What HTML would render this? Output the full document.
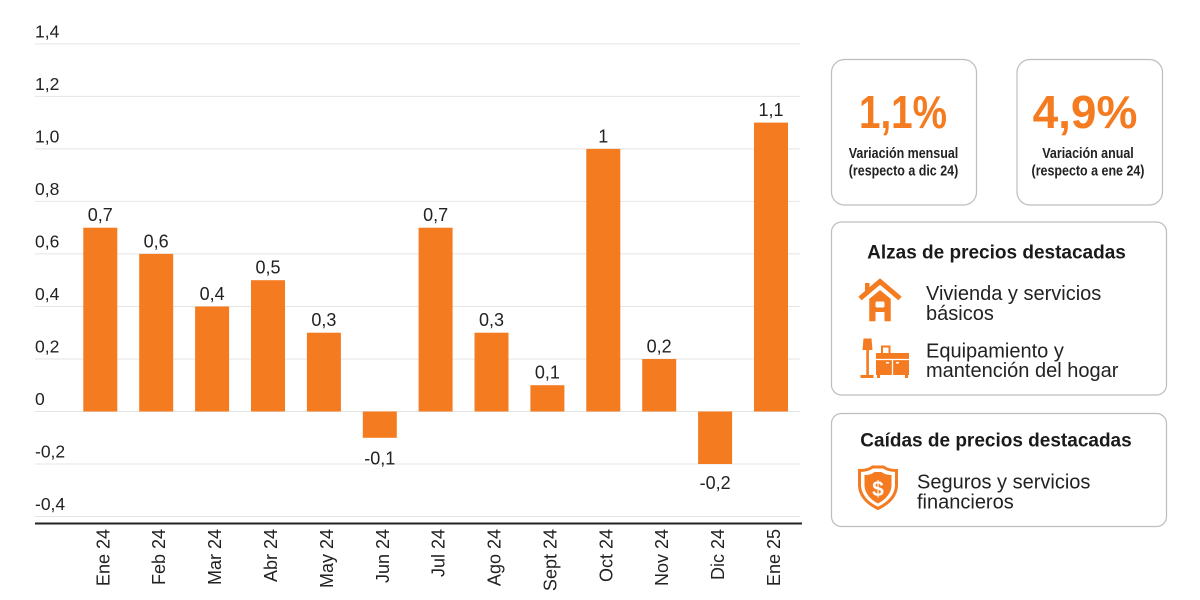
<!DOCTYPE html>
<html>
<head>
<meta charset="utf-8">
<style>
html,body{margin:0;padding:0;background:#fff;}
svg{display:block;}
text{font-family:"Liberation Sans",sans-serif;}
</style>
</head>
<body>
<svg width="1200" height="600" viewBox="0 0 1200 600" xmlns="http://www.w3.org/2000/svg">
<rect width="1200" height="600" fill="#fff"/>
<!-- gridlines -->
<g stroke="#e4e4e4" stroke-width="1">
<line x1="35" y1="43.9" x2="800" y2="43.9"/>
<line x1="35" y1="96.4" x2="800" y2="96.4"/>
<line x1="35" y1="148.9" x2="800" y2="148.9"/>
<line x1="35" y1="201.4" x2="800" y2="201.4"/>
<line x1="35" y1="253.9" x2="800" y2="253.9"/>
<line x1="35" y1="306.5" x2="800" y2="306.5"/>
<line x1="35" y1="359" x2="800" y2="359"/>
<line x1="35" y1="411.5" x2="800" y2="411.5"/>
<line x1="35" y1="464" x2="800" y2="464"/>
<line x1="35" y1="516.5" x2="800" y2="516.5"/>
</g>
<!-- y labels -->
<g font-size="17.5" fill="#222">
<text x="35" y="37.4">1,4</text>
<text x="35" y="89.9">1,2</text>
<text x="35" y="142.4">1,0</text>
<text x="35" y="194.9">0,8</text>
<text x="35" y="247.4">0,6</text>
<text x="35" y="300">0,4</text>
<text x="35" y="352.5">0,2</text>
<text x="35" y="405">0</text>
<text x="35" y="457.5">-0,2</text>
<text x="35" y="510">-0,4</text>
</g>
<!-- axis line -->
<line x1="35" y1="523.5" x2="802" y2="523.5" stroke="#222" stroke-width="2"/>
<!-- bars -->
<g fill="#F47B20">
<rect x="83.3" y="227.7" width="34" height="183.8"/>
<rect x="139.2" y="253.9" width="34" height="157.6"/>
<rect x="195.1" y="306.5" width="34" height="105"/>
<rect x="251.0" y="280.2" width="34" height="131.3"/>
<rect x="306.9" y="332.7" width="34" height="78.8"/>
<rect x="362.8" y="411.5" width="34" height="26.3"/>
<rect x="418.6" y="227.7" width="34" height="183.8"/>
<rect x="474.5" y="332.7" width="34" height="78.8"/>
<rect x="530.4" y="385.2" width="34" height="26.3"/>
<rect x="586.3" y="148.9" width="34" height="262.6"/>
<rect x="642.2" y="359" width="34" height="52.5"/>
<rect x="698.1" y="411.5" width="34" height="52.5"/>
<rect x="754" y="122.6" width="34" height="288.9"/>
</g>
<!-- value labels -->
<g font-size="18" fill="#222" text-anchor="middle">
<text x="100.3" y="221.2">0,7</text>
<text x="156.2" y="247.4">0,6</text>
<text x="212.1" y="300">0,4</text>
<text x="268" y="273.7">0,5</text>
<text x="323.9" y="326.2">0,3</text>
<text x="379.8" y="464.5">-0,1</text>
<text x="435.6" y="221.2">0,7</text>
<text x="491.5" y="326.2">0,3</text>
<text x="547.4" y="378.7">0,1</text>
<text x="603.3" y="142.4">1</text>
<text x="659.2" y="352.5">0,2</text>
<text x="715.1" y="489">-0,2</text>
<text x="771" y="116.1">1,1</text>
</g>
<!-- x labels -->
<g font-size="18" fill="#222" text-anchor="end">
<text transform="translate(109.3,529) rotate(-90)">Ene 24</text>
<text transform="translate(165.2,529) rotate(-90)">Feb 24</text>
<text transform="translate(221.1,529) rotate(-90)">Mar 24</text>
<text transform="translate(277,529) rotate(-90)">Abr 24</text>
<text transform="translate(332.9,529) rotate(-90)">May 24</text>
<text transform="translate(388.8,529) rotate(-90)">Jun 24</text>
<text transform="translate(444.6,529) rotate(-90)">Jul 24</text>
<text transform="translate(500.5,529) rotate(-90)">Ago 24</text>
<text transform="translate(556.4,529) rotate(-90)">Sept 24</text>
<text transform="translate(612.3,529) rotate(-90)">Oct 24</text>
<text transform="translate(668.2,529) rotate(-90)">Nov 24</text>
<text transform="translate(724.1,529) rotate(-90)">Dic 24</text>
<text transform="translate(780,529) rotate(-90)">Ene 25</text>
</g>

<!-- right panel boxes -->
<g fill="#fff" stroke="#bdbdbd" stroke-width="1.2">
<rect x="831.5" y="59.5" width="145" height="145.5" rx="13"/>
<rect x="1017" y="59.5" width="145.5" height="145.5" rx="13"/>
<rect x="831.5" y="222" width="335" height="173" rx="10"/>
<rect x="831.5" y="413.5" width="335" height="113" rx="10"/>
</g>

<!-- big numbers -->
<text x="903" y="128" font-size="46" font-weight="bold" fill="#F47B20" text-anchor="middle" transform="translate(903,0) scale(0.84,1) translate(-903,0)">1,1%</text>
<text x="1085" y="128" font-size="46" font-weight="bold" fill="#F47B20" text-anchor="middle">4,9%</text>
<g font-size="14.5" font-weight="bold" fill="#222" text-anchor="middle">
<g transform="translate(903.5,0) scale(0.86,1)">
<text x="0" y="158">Variación mensual</text>
<text x="0" y="175.5">(respecto a dic 24)</text>
</g>
<g transform="translate(1088,0) scale(0.86,1)">
<text x="0" y="158">Variación anual</text>
<text x="0" y="175.5">(respecto a ene 24)</text>
</g>
</g>

<!-- titles -->
<g font-size="19" font-weight="bold" fill="#1a1a1a" text-anchor="middle">
<text x="996.5" y="258.5">Alzas de precios destacadas</text>
<text x="996" y="446.5">Caídas de precios destacadas</text>
</g>

<!-- item texts -->
<g font-size="20" fill="#222">
<text x="926" y="300">Vivienda y servicios</text>
<text x="926" y="320">básicos</text>
<text x="926" y="357.5">Equipamiento y</text>
<text x="926" y="377">mantención del hogar</text>
<text x="917" y="488.5">Seguros y servicios</text>
<text x="917" y="508.5">financieros</text>
</g>

<!-- house icon -->
<g fill="#F47B20">
<rect x="865" y="283" width="4.5" height="9"/>
<polyline points="860,298.5 880,281.5 900,298.5" fill="none" stroke="#F47B20" stroke-width="5" stroke-linejoin="miter"/>
<polygon points="868.5,322 868.5,298.5 880,289 891.5,298.5 891.5,322" stroke="#fff" stroke-width="1.5"/>
<rect x="875.5" y="301.5" width="9" height="6" rx="1.5" fill="#fff"/>
<rect x="875.5" y="312" width="9" height="10.5" fill="#fff"/>
</g>

<!-- furniture icon -->
<g fill="#F47B20">
<polygon points="863.5,338.5 871.5,338.5 872.5,350 862.5,350"/>
<rect x="866.3" y="350" width="2.6" height="26"/>
<rect x="860.5" y="375" width="13" height="3"/>
<rect x="882" y="346.5" width="7.5" height="7.5" fill="none" stroke="#F47B20" stroke-width="2"/>
<rect x="876" y="353" width="33" height="22"/>
<rect x="877" y="374" width="3" height="4"/>
<rect x="905" y="374" width="3" height="4"/>
<line x1="876" y1="359.5" x2="909" y2="359.5" stroke="#fff" stroke-width="1.3"/>
<line x1="892.5" y1="359.5" x2="892.5" y2="375" stroke="#fff" stroke-width="1.3"/>
<rect x="886" y="362" width="3" height="1.5" fill="#fff"/>
<rect x="896" y="362" width="3" height="1.5" fill="#fff"/>
</g>

<!-- shield icon -->
<path d="M859.5,470.5 Q868,470.5 872.5,467 L883.5,467 Q888,470.5 896.5,470.5 L896.5,486 Q895.5,500 878,508.5 Q860.5,500 859.5,486 Z" fill="none" stroke="#F47B20" stroke-width="3"/>
<path d="M864.5,475 Q871,475 874.5,472 L881.5,472 Q885,475 891.5,475 L891.5,486 Q890.5,497 878,503.5 Q865.5,497 864.5,486 Z" fill="#F47B20"/>
<text x="878" y="496" font-size="21" font-weight="bold" fill="#fff" text-anchor="middle">$</text>
</svg>
</body>
</html>
